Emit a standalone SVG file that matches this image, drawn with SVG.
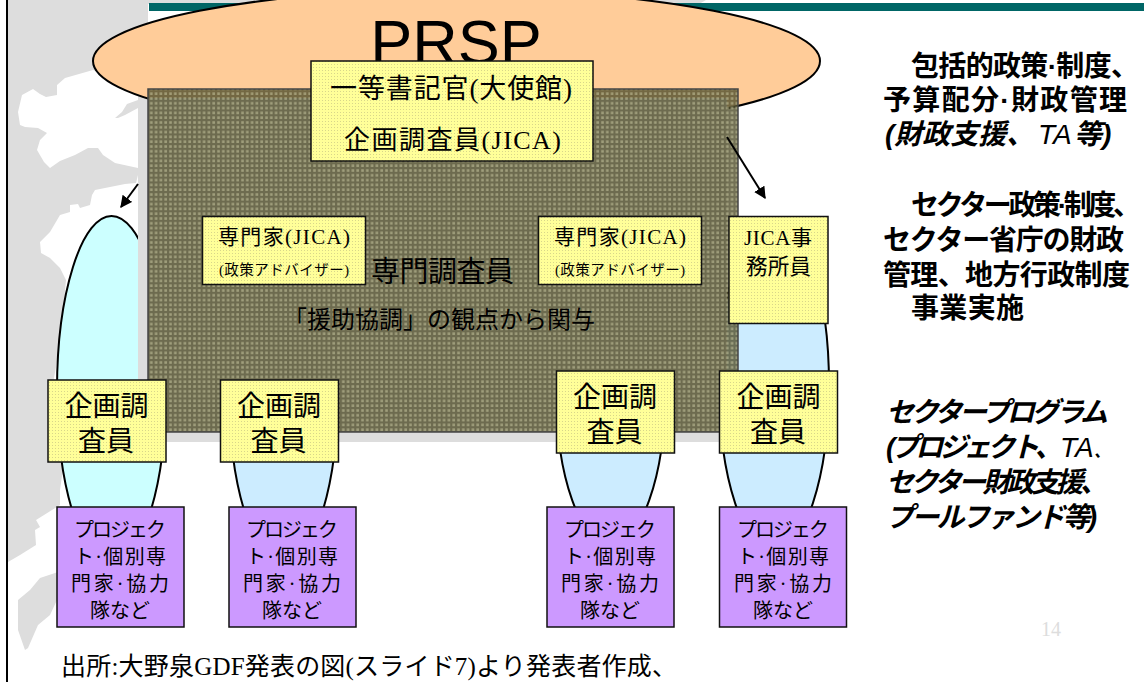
<svg xmlns="http://www.w3.org/2000/svg" width="1144" height="682" viewBox="0 0 1144 682">
<style>
text{fill:#000;font-family:"Liberation Serif","Noto Sans CJK JP",serif}
.ov{stroke:#000;stroke-width:2}
.b1{fill:#ccecff}
.box{fill:url(#dots);stroke:#111;stroke-width:1.5}
.pur{fill:#cc99ff;stroke:#111;stroke-width:1.5}
.t27{font-size:28px;text-anchor:middle}
.t21{font-size:20px;text-anchor:middle}
.side{font-family:"Liberation Sans","Noto Sans CJK JP",sans-serif;font-size:28px;font-weight:700}
.it{font-style:italic}
.thin{font-weight:400}
.land{fill:#fff}
.conn{stroke:#000;stroke-width:2;fill:none;marker-end:url(#ah)}
</style>
<defs>
<pattern id="grid" width="4.8" height="4.8" patternUnits="userSpaceOnUse">
<rect width="4.8" height="4.8" fill="#54522f" fill-opacity=".82"/>
<rect x="1.2" y="1.2" width="2.6" height="2.6" fill="#c8c8a0" fill-opacity=".55"/>
</pattern>
<pattern id="dots" width="3" height="3" patternUnits="userSpaceOnUse">
<rect width="3" height="3" fill="#ffff99"/>
<rect x="1" y="1" width="1" height="1" fill="#d8d68a"/>
</pattern>
<marker id="ah" viewBox="0 0 10 10" refX="9" refY="5" markerWidth="6" markerHeight="6" orient="auto" markerUnits="strokeWidth">
<path d="M0 0L10 5L0 10z" fill="#000"/>
</marker>
</defs>
<rect width="1144" height="682" fill="#fff"/>
<g id="map">
<path fill="#ddd" d="M8 0H148V442H138L64 462L60 490L60 505L44 515L36 520L40 527L35 530L36 545L20 555L8 562Z"/>
<path fill="#ddd" d="M58 572L40 578L30 590L18 600L18 630L25 650L28 648L38 625L50 615L57 600Z"/>
<path class="land" d="M33 89L40 94L46 97L57 95L57 85L65 78L93 70L138 90V168L115 163L103 155L98 148L88 148L75 155L60 161L50 168L44 162L37 150L40 140L47 133L38 128L25 127L20 125L18 112L22 95Z"/>
<path fill="#ddd" d="M115 118L122 112L127 104L138 100V108L125 115L118 118Z"/>
<path class="land" d="M138 175V440H66L50 400L60 345L66 280L60 268L50 258L41 253L40 242L50 232L60 215L70 212L70 205L78 204L80 208L90 205L92 195L95 190L125 184L136 183Z"/>
<rect x="138" y="0" width="10" height="442" fill="#ddd"/>
<rect x="148" y="432" width="592" height="10" fill="#ddd"/>
<path fill="#ddd" d="M148 0H706L699 4H148Z"/>
</g>
<rect x="6" y="0" width="2" height="682" fill="#000"/>
<rect x="149" y="3" width="995" height="8" fill="#006666"/>
<g id="ovals">
<ellipse class="ov" cx="111.500" cy="390" rx="54.500" ry="174" fill="#ccffff"/>
<ellipse class="ov b1" cx="283.500" cy="390" rx="54.500" ry="174"/>
<ellipse class="ov b1" cx="610.700" cy="392" rx="54.500" ry="153"/>
<ellipse class="ov b1" cx="774" cy="385" rx="55" ry="167"/>
<rect x="138" y="200" width="10" height="242" fill="#ddd"/>
</g>
<g id="prsp">
<ellipse cx="456.500" cy="61" rx="363.500" ry="71" fill="#ffcc99" stroke="#000" stroke-width="2"/>
<text x="456" y="64" text-anchor="middle" font-size="63" style="font-family:'Liberation Sans',sans-serif">PRSP</text>
</g>
<g id="specialist-area">
<rect x="148" y="98" width="579" height="334" fill="#ddd"/>
<rect x="148" y="89" width="590" height="343" fill="url(#grid)" stroke="#444" stroke-width="1.500"/>
<text x="371" y="282" font-size="29" textLength="143">専門調査員</text>
<text x="283" y="328" font-size="24" textLength="312">「援助協調」の観点から関与</text>
</g>
<g id="connectors">
<line class="conn" x1="138" y1="184" x2="121" y2="207"/>
<line class="conn" x1="727" y1="137" x2="765" y2="198"/>
</g>
<g id="first-secretary">
<rect class="box" x="311" y="61" width="282" height="100"/>
<text x="330" y="98" font-size="27" textLength="242">一等書記官(大使館)</text>
<text x="344" y="149" font-size="26" textLength="217">企画調査員(JICA)</text>
</g>
<g id="expert-left">
<rect class="box" x="202.500" y="216.500" width="163" height="68"/>
<text x="218" y="244" font-size="21" textLength="132">専門家(JICA)</text>
<text x="219" y="275" font-size="14.500" textLength="130">(政策アドバイザー)</text>
</g>
<g id="expert-right">
<rect class="box" x="538.500" y="216.500" width="163" height="68"/>
<text x="554" y="244" font-size="21" textLength="132">専門家(JICA)</text>
<text x="555" y="275" font-size="14.500" textLength="130">(政策アドバイザー)</text>
</g>
<g id="jica-office">
<rect class="box" x="729" y="216.500" width="99" height="107"/>
<text x="744" y="245" font-size="21" textLength="68">JICA事</text>
<text x="746" y="274" font-size="21.500" textLength="65">務所員</text>
</g>
<g id="planner-1">
<rect class="box" x="48" y="380" width="118" height="82"/>
<text class="t27" x="106.500" y="416">企画調</text><text class="t27" x="106" y="451">査員</text>
</g>
<g id="planner-2">
<rect class="box" x="220.500" y="380" width="118" height="82"/>
<text class="t27" x="279" y="416">企画調</text><text class="t27" x="278.500" y="451">査員</text>
</g>
<g id="planner-3">
<rect class="box" x="556.500" y="371" width="118" height="82"/>
<text class="t27" x="615" y="407">企画調</text><text class="t27" x="614.500" y="442">査員</text>
</g>
<g id="planner-4">
<rect class="box" x="719.500" y="371" width="118" height="82"/>
<text class="t27" x="778.500" y="407">企画調</text><text class="t27" x="778" y="442">査員</text>
</g>
<g id="project-1">
<rect class="pur" x="57" y="507" width="127" height="120"/>
<text class="t21" x="120" y="537" textLength="92">プロジェク</text><text class="t21" x="120" y="564" textLength="92">ト·個別専</text><text class="t21" x="120" y="591" textLength="98">門家·協力</text><text class="t21" x="120" y="618" textLength="60">隊など</text>
</g>
<g id="project-2">
<rect class="pur" x="229" y="507" width="127" height="120"/>
<text class="t21" x="292" y="537" textLength="92">プロジェク</text><text class="t21" x="292" y="564" textLength="92">ト·個別専</text><text class="t21" x="292" y="591" textLength="98">門家·協力</text><text class="t21" x="292" y="618" textLength="60">隊など</text>
</g>
<g id="project-3">
<rect class="pur" x="547" y="507" width="127" height="120"/>
<text class="t21" x="610" y="537" textLength="92">プロジェク</text><text class="t21" x="610" y="564" textLength="92">ト·個別専</text><text class="t21" x="610" y="591" textLength="98">門家·協力</text><text class="t21" x="610" y="618" textLength="60">隊など</text>
</g>
<g id="project-4">
<rect class="pur" x="719.500" y="507" width="127" height="120"/>
<text class="t21" x="783" y="537" textLength="92">プロジェク</text><text class="t21" x="783" y="564" textLength="92">ト·個別専</text><text class="t21" x="783" y="591" textLength="98">門家·協力</text><text class="t21" x="783" y="618" textLength="60">隊など</text>
</g>
<g id="side-notes">
<text class="side" x="911" y="76" textLength="228">包括的政策·制度、</text>
<text class="side" x="883" y="110" textLength="244">予算配分·財政管理</text>
<text class="side it" x="885" y="144">(財政支援、<tspan class="thin" x="1038">TA</tspan><tspan x="1074">等)</tspan></text>
<text class="side" x="911" y="215" textLength="230">セクター政策·制度、</text>
<text class="side" x="883" y="250" textLength="241">セクター省庁の財政</text>
<text class="side" x="883" y="285" textLength="247">管理、地方行政制度</text>
<text class="side" x="911" y="318" textLength="113">事業実施</text>
<text class="side it" x="886" y="422" textLength="222">セクタープログラム</text>
<text class="side it" x="886" y="457" letter-spacing="-4">(プロジェクト、<tspan class="thin" x="1060" letter-spacing="0">TA</tspan><tspan x="1094" letter-spacing="0" font-size="16">、</tspan></text>
<text class="side it" x="886" y="492" textLength="222">セクター財政支援、</text>
<text class="side it" x="886" y="527" textLength="211">プールファンド等)</text>
</g>
<text x="1041" y="636" font-size="20" style="fill:#ddd">14</text>
<text x="61" y="675" font-size="25" textLength="616">出所:大野泉GDF発表の図(スライド7)より発表者作成、</text>
</svg>
